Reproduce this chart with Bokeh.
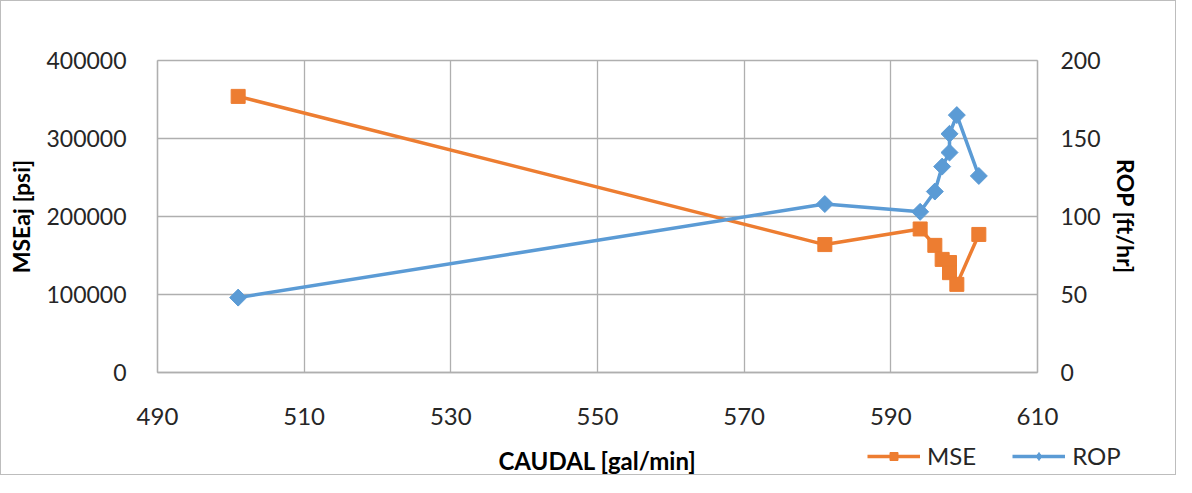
import math
from bokeh.plotting import figure
from bokeh.models import (Range1d, LinearAxis, Legend, LegendItem, FixedTicker,
                          CDSView, IndexFilter)
from bokeh.embed import file_html
from bokeh.resources import INLINE

# ---- data ----
caudal = [501, 581, 594, 596, 597, 598, 598, 599, 602]
mse = [354000, 164000, 184000, 163000, 145000, 141000, 128000, 113000, 177000]
rop = [48, 108, 103, 116, 132, 141, 153, 165, 126]
x_ticks = [490, 510, 530, 550, 570, 590, 610]
y_ticks = [0, 100000, 200000, 300000, 400000]
y2_ticks = [0, 50, 100, 150, 200]
x_title = "CAUDAL [gal/min]"
y_title = "MSEaj [psi]"
y2_title = "ROP [ft/hr]"
series_names = ["MSE", "ROP"]

ORANGE = "#ED7D31"
BLUE = "#5B9BD5"
GRID = "#afafaf"
TXT = "#262626"
FONT = "Lato"

# geometry (canvas pixels): the frame covers the whole canvas so nothing
# outside the value area gets clipped; the value area sits inside it.
W, H = 1176, 475
AREA_L, AREA_R = 156, 1036
AREA_T, AREA_B = 59, 371

x_lo, x_hi = x_ticks[0], x_ticks[-1]
y_lo, y_hi = y_ticks[0], y_ticks[-1]
y2_lo, y2_hi = y2_ticks[0], y2_ticks[-1]

def extend(lo, hi, a, b, before, after):
    per_px = (hi - lo) / (b - a)
    return lo - before * per_px, hi + after * per_px

xs, xe = extend(x_lo, x_hi, AREA_L, AREA_R, AREA_L, W - AREA_R)
ys, ye = extend(y_lo, y_hi, AREA_T, AREA_B, H - AREA_B, AREA_T)
y2s, y2e = extend(y2_lo, y2_hi, AREA_T, AREA_B, H - AREA_B, AREA_T)

p = figure(width=W, height=H, output_backend="svg", toolbar_location=None,
           x_range=Range1d(xs, xe), y_range=Range1d(ys, ye),
           min_border_left=0, min_border_right=0, min_border_top=0, min_border_bottom=0)
p.extra_y_ranges = {"rop": Range1d(y2s, y2e)}
p.outline_line_color = None
p.background_fill_color = "white"
p.border_fill_color = "white"
p.styles = {"border": "1px solid #bdbdbd"}

# grid
p.xgrid.ticker = FixedTicker(ticks=x_ticks)
p.ygrid.ticker = FixedTicker(ticks=y_ticks)
p.xgrid.cross_bounds = (y_lo, y_hi)
p.ygrid.cross_bounds = (x_lo, x_hi)
for g in (p.xgrid, p.ygrid):
    g.grid_line_color = GRID
    g.grid_line_width = 1.3

# axes
p.xaxis.ticker = FixedTicker(ticks=x_ticks)
p.xaxis.fixed_location = y_lo
p.xaxis.bounds = (x_lo, x_hi)
p.yaxis.ticker = FixedTicker(ticks=y_ticks)
p.yaxis.fixed_location = x_lo
p.yaxis.bounds = (y_lo, y_hi)
p.yaxis.formatter.use_scientific = False

r_axis = LinearAxis(y_range_name="rop", ticker=FixedTicker(ticks=y2_ticks),
                    bounds=(y2_lo, y2_hi), fixed_location=x_hi)
p.add_layout(r_axis, "right")

p.xaxis.axis_label = x_title
p.yaxis.axis_label = y_title
r_axis.axis_label = y2_title

for ax in (p.xaxis[0], p.yaxis[0], r_axis):
    ax.axis_line_color = GRID
    ax.axis_line_width = 1.3
    ax.major_tick_line_color = None
    ax.minor_tick_line_color = None
    ax.major_tick_out = 0
    ax.major_tick_in = 0
    ax.minor_tick_out = 0
    ax.major_label_text_font = FONT
    ax.major_label_text_font_size = "24px"
    ax.major_label_text_color = TXT
    ax.axis_label_text_font = FONT
    ax.axis_label_text_font_style = "bold"
    ax.axis_label_text_color = "#000000"
    ax.axis_label_text_font_size = "23px"

p.yaxis.major_label_text_font_size = "23px"
p.yaxis.major_label_standoff = 31
p.yaxis.axis_label_standoff = 8
r_axis.major_label_standoff = 23
r_axis.axis_label_standoff = 8
p.xaxis.major_label_standoff = 35
p.xaxis.axis_label_standoff = 18
p.xaxis.axis_label_text_font_size = "24px"

# series
l1 = p.line(caudal, mse, line_color=ORANGE, line_width=3.5)
s1 = p.scatter(caudal, mse, marker="square", size=14, fill_color=ORANGE, line_color=ORANGE)
l2 = p.line(caudal, rop, line_color=BLUE, line_width=3.5, y_range_name="rop")
s2 = p.scatter(caudal, rop, marker="square", angle=math.pi / 4, size=12,
               fill_color=BLUE, line_color=BLUE, y_range_name="rop")
# diamond swatch for the legend (its single point hides under the first marker)
s2_key = p.scatter(caudal, rop, marker="diamond", size=16, fill_color=BLUE, line_color=BLUE,
                   y_range_name="rop", view=CDSView(filter=IndexFilter(indices=[0])))

legend = Legend(items=[LegendItem(label=series_names[0], renderers=[l1, s1]),
                       LegendItem(label=series_names[1], renderers=[l2, s2_key])],
                orientation="horizontal", location=(AREA_L + 710, 6),
                glyph_width=53, glyph_height=20, label_standoff=7, spacing=36,
                padding=0, margin=0, border_line_color=None, background_fill_alpha=0,
                label_text_font=FONT, label_text_font_size="24px",
                label_text_color=TXT)
p.add_layout(legend, "center")

open("out.html", "w").write(file_html(p, INLINE))
